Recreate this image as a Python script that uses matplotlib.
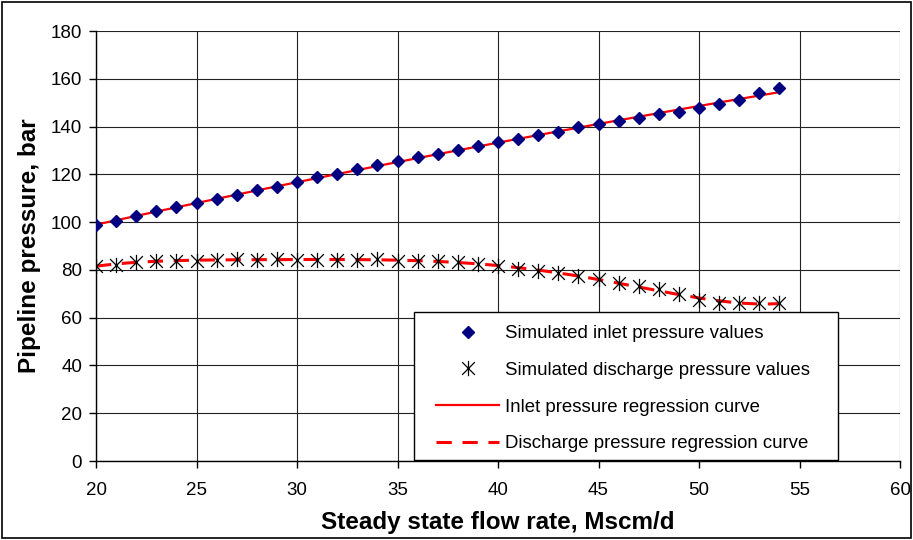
import numpy as np
import matplotlib
matplotlib.use("Agg")
import matplotlib.pyplot as plt
from matplotlib.path import Path
from matplotlib.patches import Rectangle

plt.rcParams['font.family'] = ['Liberation Sans', 'DejaVu Sans']

# steady state flow rate, Mscm/d
flow = [20, 21, 22, 23, 24, 25, 26, 27, 28, 29, 30, 31, 32, 33, 34, 35, 36,
        37, 38, 39, 40, 41, 42, 43, 44, 45, 46, 47, 48, 49, 50, 51, 52, 53, 54]

# simulated inlet pressure, bar
inlet = [98.7, 100.6, 102.7, 104.5, 106.2, 107.9, 109.5, 111.4, 113.3, 114.8,
         116.7, 118.7, 120.0, 122.1, 123.9, 125.4, 127.2, 128.6, 130.2, 132.0,
         133.5, 134.9, 136.3, 137.8, 139.8, 140.9, 142.3, 143.7, 145.2, 146.2,
         147.6, 149.4, 151.2, 153.9, 156.2]

# simulated discharge pressure, bar
discharge = [81.8, 82.2, 83.2, 83.6, 83.6, 83.9, 84.2, 84.6, 84.3, 84.5,
             84.3, 84.3, 84.3, 84.3, 84.5, 83.9, 83.6, 83.8, 83.3, 82.5,
             81.5, 80.4, 79.7, 78.7, 77.6, 76.0, 74.6, 73.4, 72.1, 69.7,
             67.6, 66.1, 66.1, 66.1, 66.1]

x = np.array(flow, dtype=float)
xs = np.linspace(x.min(), x.max(), 300)
inlet_fit = np.polyval(np.polyfit(x, inlet, 2), xs)
disch_fit = np.polyval(np.polyfit(x, discharge, 5), xs)

# star marker: an X with a vertical stroke
star = Path([(-1, -1), (1, 1), (-1, 1), (1, -1), (0, -1.2), (0, 1.2)],
            [Path.MOVETO, Path.LINETO, Path.MOVETO, Path.LINETO,
             Path.MOVETO, Path.LINETO])

fig = plt.figure(figsize=(9.13, 5.40), dpi=100)
ax = fig.add_axes([96 / 913, 79 / 540, 804 / 913, 430 / 540])

ax.plot(xs, inlet_fit, color='red', lw=1.6, zorder=2,
        label='Inlet pressure regression curve')
ax.plot(xs, disch_fit, color='red', lw=2.2, dashes=(5, 3.5), zorder=2,
        label='Discharge pressure regression curve')
ax.plot(x, inlet, ls='none', marker='D', ms=6.5, color='#000080',
        mec='#000080', zorder=3, label='Simulated inlet pressure values')
ax.plot(x, discharge, ls='none', marker=star, ms=11, mew=0.9, color='black',
        fillstyle='none', zorder=3, label='Simulated discharge pressure values')

ax.set_xlim(20, 60)
ax.set_ylim(0, 180)
ax.set_xticks(range(20, 61, 5))
ax.set_yticks(range(0, 181, 20))
ax.grid(True, color='#222222', lw=0.8)
ax.set_axisbelow(True)
for side in ['top', 'right']:
    ax.spines[side].set_visible(False)
for side in ['left', 'bottom']:
    ax.spines[side].set_linewidth(1.0)
ax.tick_params(direction='out', length=5, width=1, labelsize=13.5)
ax.tick_params(axis='x', pad=10)
ax.tick_params(axis='y', pad=5)

ax.set_xlabel('Steady state flow rate, Mscm/d', fontsize=17.5,
              fontweight='bold', labelpad=9)
ax.set_ylabel('Pipeline pressure, bar', fontsize=17.5, fontweight='bold',
              labelpad=7)

# legend box
ax.add_patch(Rectangle((414 / 913, 80 / 540), 424 / 913, 148 / 540,
                       transform=fig.transFigure, facecolor='white',
                       edgecolor='black', lw=1.0, zorder=4, clip_on=False))

handles, labels = ax.get_legend_handles_labels()
order = [2, 3, 0, 1]
leg = ax.legend([handles[i] for i in order], [labels[i] for i in order],
                loc='upper left', bbox_to_anchor=(436 / 913, 215 / 540),
                bbox_transform=fig.transFigure, frameon=False,
                fontsize=13.4, handlelength=3.4, handletextpad=0.3,
                labelspacing=1.06, borderpad=0, borderaxespad=0)
leg.set_zorder(5)

# border around the whole figure
fig.patches.append(Rectangle((2 / 913, 2 / 540), 909 / 913, 536 / 540,
                             transform=fig.transFigure, fill=False,
                             edgecolor='black', lw=1.2))

fig.savefig('out.png', dpi=100)
